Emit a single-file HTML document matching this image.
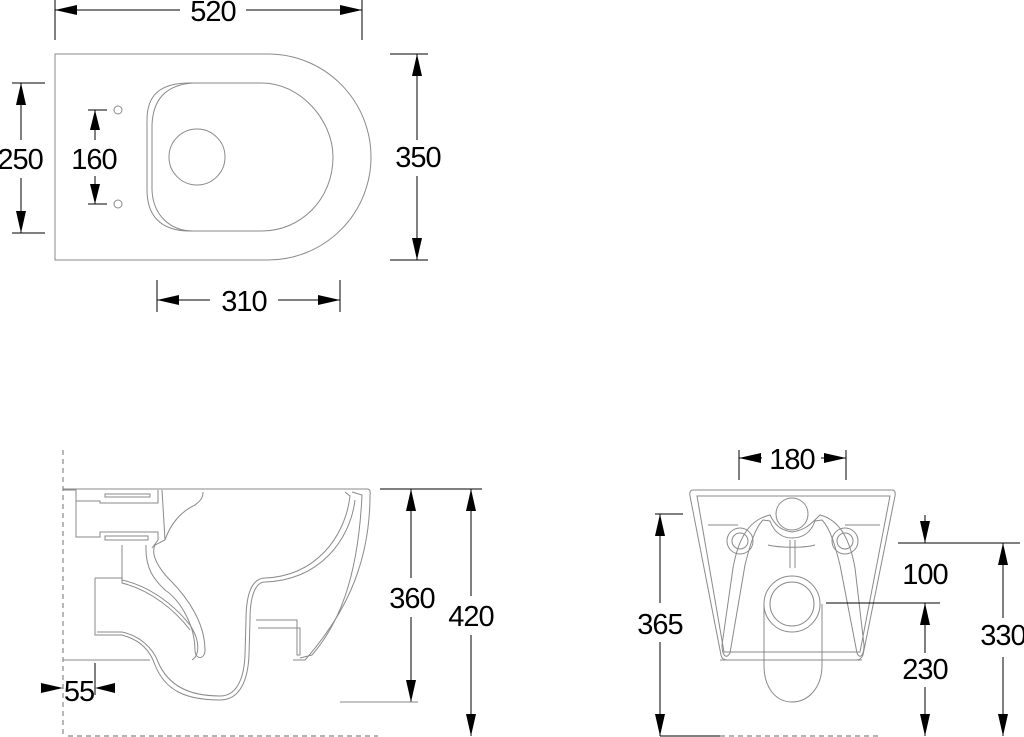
<!DOCTYPE html>
<html><head><meta charset="utf-8"><style>
html,body{margin:0;padding:0;background:#fff;}
svg{display:block;}
text{font-family:"Liberation Sans",sans-serif;font-size:29px;fill:#000;text-anchor:middle;letter-spacing:-1px;}
.g{fill:none;stroke:#8a8a8a;stroke-width:1;}
.k{fill:none;stroke:#000;stroke-width:1;}
.d{fill:none;stroke:#888;stroke-width:1.2;stroke-dasharray:5,4;}
</style></head><body>
<svg width="1024" height="737" viewBox="0 0 1024 737" xmlns="http://www.w3.org/2000/svg">
<!-- TOP VIEW -->
<path class="g" d="M55,54 H268 A103,103 0 0 1 268,260 H55 Z"/>
<path class="g" d="M190,83 H262 C300,83 333,120 333,157 C333,200 300,231 262,231 H190 C160,231 147,215 147,190 V120 C147,95 160,83 190,83 Z"/>
<path class="g" d="M193,83 C165,85 153,100 152,125 V190 C153,215 170,231 193,231"/>
<circle class="g" cx="197" cy="157" r="28"/>
<circle class="g" cx="118" cy="110" r="4"/>
<circle class="g" cx="118" cy="204" r="4"/>
<!-- 520 -->
<path class="k" d="M55,0 V40 M362,0 V40 M55,10 H180 M246,10 H362"/>
<polygon points="55,10 77,5 77,15"/><polygon points="362,10 340,5 340,15"/>
<text x="213" y="21">520</text>
<!-- 250 -->
<path class="k" d="M12,83 H45 M12,233 H45 M21,83 V140 M21,178 V233"/>
<polygon points="21,83 16,105 26,105"/><polygon points="21,233 16,211 26,211"/>
<text x="20" y="169">250</text>
<!-- 160 -->
<path class="k" d="M88,110 H107 M88,204 H107 M95,110 V140 M95,176 V204"/>
<polygon points="95,110 90,130 100,130"/><polygon points="95,204 90,184 100,184"/>
<text x="94" y="169">160</text>
<!-- 350 -->
<path class="k" d="M390,54 H428 M390,260 H428 M417,54 V140 M417,176 V260"/>
<polygon points="417,54 412,76 422,76"/><polygon points="417,260 412,238 422,238"/>
<text x="418" y="167">350</text>
<!-- 310 -->
<path class="k" d="M157,280 V312 M340,280 V312 M157,300 H210 M278,300 H340"/>
<polygon points="157,300 179,295 179,305"/><polygon points="340,300 318,295 318,305"/>
<text x="244" y="311">310</text>

<!-- SIDE VIEW -->
<line class="d" x1="63" y1="450" x2="63" y2="737"/>
<line class="d" x1="68" y1="736" x2="378" y2="736"/>
<path class="g" d="M63,489 H368 Q371,490 370,495 C370,570 340,620 305,660 H293"/>
<path class="g" d="M63,660 H150"/>
<path class="g" d="M63,490 H76 V501 H100 V503 H158 V490"/>
<rect class="g" x="105" y="494" width="45" height="3"/>
<path class="g" d="M76,501 V537 H100 V532 H158 V540 L152,548"/>
<rect class="g" x="105" y="536" width="43" height="4"/>
<path class="g" d="M162,490 L165,540 L155,545 C150,555 160,570 170,580 C190,600 205,625 205,650 C205,660 195,660 195,650 C195,625 180,600 165,590 C155,580 145,570 146,545"/>
<path class="g" d="M203,492 C203,500 198,502 195,505 C180,512 170,525 165,540"/>
<path class="g" d="M122,545 V580 C145,585 170,600 190,625 C200,640 200,655 192,660"/>
<path class="g" d="M95,578 H122 V583 C150,590 175,610 190,630"/>
<path class="g" d="M95,578 V635 H122 C140,640 150,650 155,665 C165,690 185,700 220,700 C240,700 248,680 249,655 L250,620 C250,590 258,582 265,582 C320,580 350,540 355,500"/>
<path class="g" d="M97,632 H122 C140,636 153,648 158,662 C168,685 188,696 220,696 C236,696 244,680 245,655 L246,620 C246,588 255,578 265,578 C315,576 345,538 350,496 L345,492"/>
<path class="g" d="M256,620 H297 V655 H300 V628 H258"/>
<path class="g" d="M300,658 L312,655 C338,625 358,580 362,495 L352,492"/>
<!-- 360 / 420 -->
<path class="k" d="M380,489 H482 M411,489 V578 M411,617 V702 M471,489 V596 M471,635 V736"/>
<line x1="340" y1="702" x2="418" y2="702" stroke="#888"/>
<polygon points="411,489 406,511 416,511"/><polygon points="411,702 406,680 416,680"/>
<polygon points="471,489 466,511 476,511"/><polygon points="471,736 466,714 476,714"/>
<text x="412" y="608">360</text>
<text x="471" y="626">420</text>
<!-- 55 -->
<path class="k" d="M95,663 V695"/>
<polygon points="63,688 41,683 41,693"/><polygon points="95,688 115,683 115,693"/>
<text x="79" y="701">55</text>

<!-- FRONT VIEW -->
<path class="g" d="M693,490 H892 Q896,490 895,496 L863,655 Q861,660 856,660 H727 Q722,660 721,655 L690,496 Q689,490 693,490 Z"/>
<path class="g" d="M697,496 H890 L860,652 H724 Z"/>
<line class="g" x1="720" y1="660" x2="862" y2="660"/>
<circle class="g" cx="792" cy="514" r="16"/>
<path class="g" d="M770,521 C775,535 785,538 792,538 C800,538 810,535 815,521 L822,520 C830,528 835,545 840,565 L857,653 C860,660 864,655 864,645 L855,568 C850,540 840,520 820,515 C810,525 805,530 792,532 C780,530 775,525 770,515 C748,520 738,540 733,568 L722,645 C722,655 726,660 730,653 L745,565 C750,545 755,528 763,520 Z"/>
<path class="g" d="M708,525 H738 M845,525 H880"/>
<circle class="g" cx="740" cy="541" r="13"/><circle class="g" cx="740" cy="541" r="8"/>
<circle class="g" cx="845" cy="541" r="13"/><circle class="g" cx="845" cy="541" r="8"/>
<path class="g" d="M790,540 V568 M795,540 V568"/>
<path class="g" d="M768,545 C780,548 805,548 815,545"/>
<circle class="g" cx="792" cy="604" r="28"/><circle class="g" cx="792" cy="604" r="22"/>
<path class="g" d="M764,604 V665 C764,688 776,702 792,702 C808,702 822,688 822,665 V604"/>
<line class="d" x1="720" y1="736" x2="880" y2="736"/>
<line x1="660" y1="736" x2="720" y2="736" stroke="#000"/>
<!-- 180 -->
<path class="k" d="M739,450 V480 M846,450 V480 M739,458 H762 M821,458 H846"/>
<polygon points="739,458 761,453 761,463"/><polygon points="846,458 824,453 824,463"/>
<text x="792" y="469">180</text>
<!-- 365 -->
<path class="k" d="M655,514 H683 M660,514 V603 M660,642 V736"/>
<polygon points="660,514 655,536 665,536"/><polygon points="660,736 655,714 665,714"/>
<text x="660" y="634">365</text>
<!-- 100/230/330 -->
<path class="k" d="M898,543 H1020 M826,603 H940 M925,515 V543 M925,603 V653 M925,687 V736 M1003,543 V618 M1003,657 V736"/>
<polygon points="925,543 920,521 930,521"/><polygon points="925,603 920,625 930,625"/>
<polygon points="925,736 920,714 930,714"/>
<polygon points="1003,543 998,565 1008,565"/><polygon points="1003,736 998,714 1008,714"/>
<text x="925" y="584">100</text>
<text x="925" y="679">230</text>
<text x="1003" y="645">330</text>
</svg>
</body></html>
